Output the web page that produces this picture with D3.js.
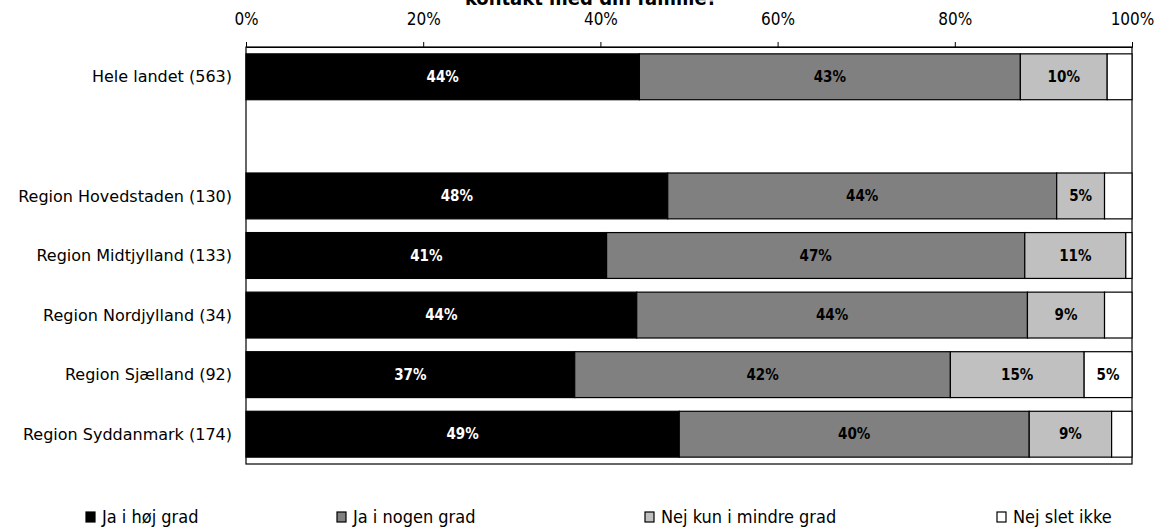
<!DOCTYPE html>
<html><head><meta charset="utf-8">
<script src="https://cdn.jsdelivr.net/npm/d3@7"></script>
<style>body{margin:0;background:#fff}svg{display:block}</style>
</head><body>
<script>
const categories = ["Hele landet (563)", "", "Region Hovedstaden (130)", "Region Midtjylland (133)", "Region Nordjylland (34)", "Region Sjælland (92)", "Region Syddanmark (174)"];
const seriesNames = ["Ja i høj grad", "Ja i nogen grad", "Nej kun i mindre grad", "Nej slet ikke"];
const jaHoej =   [44.4, null, 47.6, 40.7, 44.1, 37.1, 48.9];
const jaNogen =  [43.0, null, 43.9, 47.2, 44.1, 42.4, 39.5];
const nejMindre =[9.8,  null, 5.4,  11.4, 8.7,  15.1, 9.3];
const nejSlet =  [2.8,  null, 3.1,  0.7,  3.1,  5.4,  2.3];
const tickValues = [0, 20, 40, 60, 80, 100];
const titleText = "kontakt med din familie?";

const W = 1160, H = 528;
const m = {left: 246, right: 1132, top: 47, bottom: 464};
const fills = ["#000000", "#808080", "#c0c0c0", "#ffffff"];
const textCols = ["#ffffff", "#000000", "#000000", "#000000"];
const fontC = "'DejaVu Sans Condensed','DejaVu Sans',sans-serif";
const fontN = "'DejaVu Sans',sans-serif";

const svg = d3.select("body").append("svg").attr("width", W).attr("height", H);
const x = d3.scaleLinear().domain([0, 100]).range([m.left, m.right]);
const y = d3.scaleBand().domain(d3.range(categories.length)).range([m.top, m.bottom]).paddingInner(0.23).paddingOuter(0.115);

const series = [jaHoej, jaNogen, nejMindre, nejSlet];
const rows = categories.map((c, i) => {
  let acc = 0;
  return series.map((s, k) => {
    const v = s[i];
    if (v == null) return null;
    const seg = {i, k, x0: acc, x1: acc + v, v};
    acc += v;
    return seg;
  }).filter(d => d);
});

// title
svg.append("text").attr("x", 591).attr("y", 5).attr("text-anchor", "middle")
  .attr("font-family", fontC).attr("font-weight", "bold").attr("font-size", 20).text(titleText);

// frame
svg.append("rect").attr("x", m.left).attr("y", m.top).attr("width", m.right - m.left).attr("height", m.bottom - m.top)
  .attr("fill", "none").attr("stroke", "#000").attr("stroke-width", 1.2);

// top axis
const ax = svg.append("g").attr("transform", `translate(0,${m.top})`)
  .call(d3.axisTop(x).tickValues(tickValues).tickFormat(d => d + "%").tickSize(5).tickPadding(17));
ax.select(".domain").attr("stroke", "#000");
ax.selectAll("text").attr("font-family", fontC).attr("font-size", 17).attr("fill", "#000");

// bars
const g = svg.append("g");
rows.forEach(r => r.forEach(d => {
  g.append("rect").attr("x", x(d.x0)).attr("y", y(d.i)).attr("width", x(d.x1) - x(d.x0)).attr("height", y.bandwidth())
    .attr("fill", fills[d.k]).attr("stroke", "#000").attr("stroke-width", 1.2);
  const rv = Math.round(d.v);
  if (rv >= 5) {
    g.append("text").attr("x", (x(d.x0) + x(d.x1)) / 2).attr("y", y(d.i) + y.bandwidth() / 2)
      .attr("dy", "0.35em").attr("text-anchor", "middle").attr("font-family", fontC).attr("font-weight", "bold")
      .attr("font-size", 15).attr("fill", textCols[d.k]).text(rv + "%");
  }
}));

// category labels
svg.append("g").selectAll("text").data(categories).join("text")
  .attr("x", 232).attr("y", (d, i) => y(i) + y.bandwidth() / 2).attr("dy", "0.35em")
  .attr("text-anchor", "end").attr("font-family", fontN).attr("font-size", 16).attr("fill", "#000").text(d => d);

// legend
const legX = [86, 337, 645, 997];
const lg = svg.append("g");
seriesNames.forEach((n, k) => {
  lg.append("rect").attr("x", legX[k]).attr("y", 512).attr("width", 9).attr("height", 10)
    .attr("fill", fills[k]).attr("stroke", "#000").attr("stroke-width", 1.2);
  lg.append("text").attr("x", legX[k] + 16).attr("y", 517).attr("dy", "0.35em")
    .attr("font-family", fontC).attr("font-size", 18).attr("fill", "#000").text(n);
});
</script>
</body></html>
